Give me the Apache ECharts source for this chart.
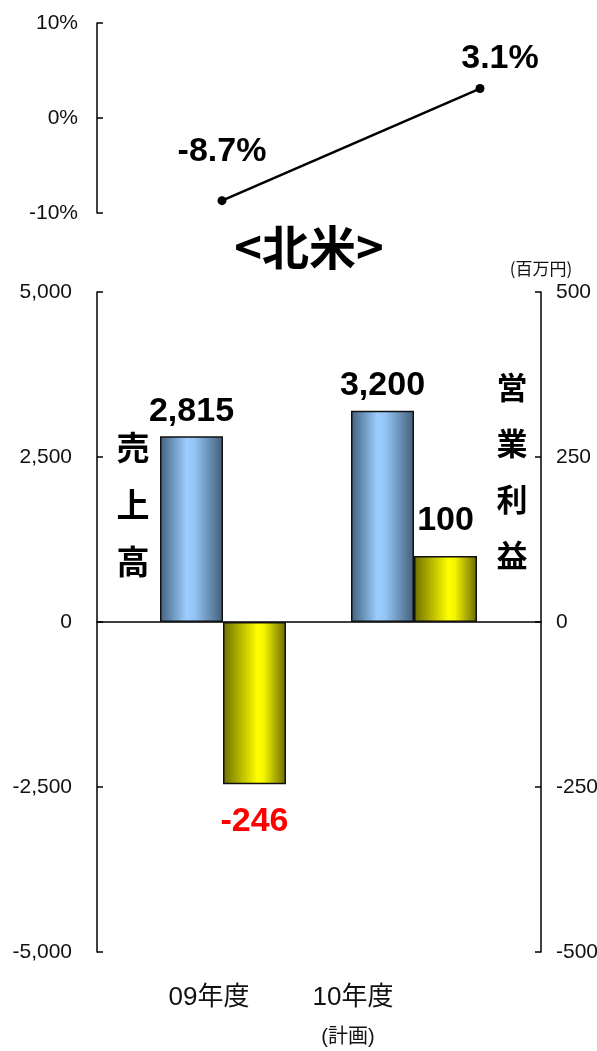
<!DOCTYPE html>
<html><head><meta charset="utf-8">
<script src="https://cdn.jsdelivr.net/npm/echarts@6/dist/echarts.min.js"></script>
<style>html,body{margin:0;padding:0;background:#fff}#c{width:597px;height:1051px}</style>
</head><body><div id="c"></div>
<script>
// ---- data ----
const categories = ['09年度', '10年度'];
const categorySub = ['', '(計画)'];
const growthRate = [-8.7, 3.1];          // % (top line)
const sales = [2815, 3200];              // 売上高 (百万円)
const operatingProfit = [-246, 100];     // 営業利益 (百万円)
const leftTicks = { min: -5000, max: 5000, interval: 2500 };
const rightTicks = { min: -500, max: 500, interval: 250 };
const rateTicks = { min: -10, max: 10, interval: 10 };

const NUM = '"Liberation Sans","Noto Sans CJK JP",sans-serif';
const CJK = '"Noto Sans CJK JP",sans-serif';
const fmt = v => v.toLocaleString('en-US');

const chart = echarts.init(document.getElementById('c'), null, { renderer: 'canvas' });
const axisLine = { show: true, lineStyle: { color: '#000', width: 1.5 } };
const tickIn = { show: true, inside: true, length: 6, lineStyle: { color: '#000', width: 1.5 } };
const tickLabel = { color: '#111', fontFamily: NUM, fontSize: 21 };

const blueGrad = new echarts.graphic.LinearGradient(0, 0, 1, 0, [
  { offset: 0, color: '#42617f' }, { offset: 0.42, color: '#9ccdff' },
  { offset: 0.55, color: '#94c4f4' }, { offset: 1, color: '#425e7a' }]);
const yellowGrad = new echarts.graphic.LinearGradient(0, 0, 1, 0, [
  { offset: 0, color: '#6e6e00' }, { offset: 0.55, color: '#ffff00' },
  { offset: 0.65, color: '#f4f400' }, { offset: 1, color: '#6a6a00' }]);

const rateLabelOffsets = [[0, -20], [20, 0]];
const bigLabel = { fontFamily: NUM, fontWeight: 'bold', fontSize: 34, color: '#000' };

chart.setOption({
  animation: false,
  backgroundColor: '#fff',
  title: [
    { text: '<北米>', left: 309, top: 224, textAlign: 'center', padding: 0,
      textStyle: { fontFamily: CJK, fontWeight: 'bold', fontSize: 47, color: '#000' } },
    { text: '売\n上\n高', left: 133, top: 419, textAlign: 'center', padding: 0,
      textStyle: { fontFamily: CJK, fontWeight: 'bold', fontSize: 33, lineHeight: 57, color: '#000' } },
    { text: '営\n業\n利\n益', left: 512, top: 359, textAlign: 'center', padding: 0,
      textStyle: { fontFamily: CJK, fontWeight: 'bold', fontSize: 31, lineHeight: 56, color: '#000' } }
  ],
  grid: [
    { left: 222, right: 117, top: 23, height: 190, outerBoundsMode: 'none', containLabel: false },
    { left: 97, right: 56, top: 292, height: 660, outerBoundsMode: 'none', containLabel: false },
    { left: 127.5, right: 87.5, top: 292, height: 660, outerBoundsMode: 'none', containLabel: false }
  ],
  xAxis: [
    { gridIndex: 0, type: 'category', data: categories, boundaryGap: false, show: false },
    { gridIndex: 1, type: 'category', data: categories, axisLine: { show: true, onZero: true, lineStyle: { color: '#000', width: 1.5 } },
      axisTick: { show: false }, axisLabel: { show: false } },
    { gridIndex: 2, type: 'category', data: categories, axisLine: { show: false }, axisTick: { show: false },
      axisLabel: {
        margin: 30, interval: 0,
        formatter: (v, i) => i === 0 ? '{a|' + v + '}' : '{b|' + v + '}\n{c|' + categorySub[i] + '}',
        rich: {
          a: { fontFamily: NUM, fontSize: 26, color: '#111', padding: [0, 28, 0, 0], lineHeight: 32 },
          b: { fontFamily: NUM, fontSize: 26, color: '#111', padding: [0, 122, 0, 0], lineHeight: 32 },
          c: { fontFamily: NUM, fontSize: 20, color: '#111', padding: [0, 132, 0, 0], lineHeight: 46 }
        } } }
  ],
  yAxis: [
    { gridIndex: 0, type: 'value', min: rateTicks.min, max: rateTicks.max, interval: rateTicks.interval, offset: 125,
      axisLine, axisTick: tickIn, splitLine: { show: false },
      axisLabel: Object.assign({}, tickLabel, { margin: 19, formatter: '{value}%' }) },
    { gridIndex: 1, type: 'value', position: 'left', min: leftTicks.min, max: leftTicks.max, interval: leftTicks.interval,
      axisLine, axisTick: tickIn, splitLine: { show: false },
      axisLabel: Object.assign({}, tickLabel, { margin: 25, formatter: fmt }) },
    { gridIndex: 1, type: 'value', position: 'right', min: rightTicks.min, max: rightTicks.max, interval: rightTicks.interval,
      axisLine, axisTick: tickIn, splitLine: { show: false },
      name: '(百万円)', nameLocation: 'end', nameGap: 15,
      nameTextStyle: { fontFamily: CJK, fontSize: 17, color: '#111' },
      axisLabel: Object.assign({}, tickLabel, { margin: 15, formatter: fmt }) },
    { gridIndex: 2, type: 'value', min: leftTicks.min, max: leftTicks.max, interval: leftTicks.interval, show: false, splitLine: { show: false } },
    { gridIndex: 2, type: 'value', min: rightTicks.min, max: rightTicks.max, interval: rightTicks.interval, show: false, splitLine: { show: false } }
  ],
  series: [
    { type: 'line', xAxisIndex: 0, yAxisIndex: 0,
      data: growthRate.map((v, i) => ({ value: v, label: { offset: rateLabelOffsets[i] } })),
      symbol: 'circle', symbolSize: 9, itemStyle: { color: '#000' }, lineStyle: { color: '#000', width: 2.5 },
      label: Object.assign({ show: true, position: 'top', distance: 8, formatter: p => p.value.toFixed(1) + '%' }, bigLabel) },
    { type: 'bar', xAxisIndex: 2, yAxisIndex: 3, data: sales, barWidth: 63, barGap: '0%',
      itemStyle: { color: blueGrad, borderColor: '#111', borderWidth: 1.5 },
      label: Object.assign({ show: true, position: 'top', distance: 8, formatter: p => fmt(p.value) }, bigLabel) },
    { type: 'bar', xAxisIndex: 2, yAxisIndex: 4,
      data: operatingProfit.map(v => v < 0
        ? { value: v, label: { position: 'bottom', color: '#ff0000', distance: 20 } }
        : { value: v }),
      barWidth: 63, barGap: '0%',
      itemStyle: { color: yellowGrad, borderColor: '#111', borderWidth: 1.5 },
      label: Object.assign({ show: true, position: 'top', distance: 18, formatter: p => fmt(p.value) }, bigLabel) }
  ]
});
</script></body></html>
